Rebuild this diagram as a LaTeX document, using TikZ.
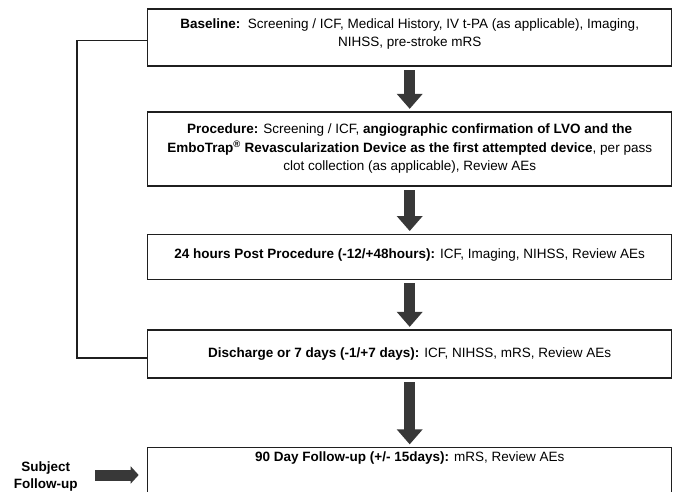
\documentclass[tikz,border=0pt]{standalone}
\usepackage{fontspec}
\setmainfont{Liberation Sans}
\usetikzlibrary{arrows.meta}
\tikzset{
  box/.style={draw=black!88, line width=1.3pt, minimum width=524pt, inner sep=0pt, rectangle},
  txt/.style={inner sep=0pt, anchor=center, font=\fontsize{13.5}{18.3}\selectfont, align=center},
  bigarrow/.style={draw=black!78, line width=11pt, -{Triangle[width=25pt,length=15pt]}, shorten <=3.5pt, shorten >=2.5pt},
  smallarrow/.style={draw=black!78, line width=11pt, -{Triangle[width=17pt,length=8pt]}},
  conn/.style={draw=black!88, line width=1.3pt}
}
\begin{document}
\begin{tikzpicture}[x=1pt,y=-1pt]
\useasboundingbox (0,0) rectangle (676,491);
\clip (0,0) rectangle (676,491);
\fill[white] (0,0) rectangle (676,491);
% boxes
\node[box, minimum height=57pt] (b1) at (409.7,37.5) {};
\node[box, minimum height=74pt] (b2) at (409.7,149) {};
\node[box, minimum height=45pt] (b3) at (409.7,256.7) {};
\node[box, minimum height=48pt] (b4) at (409.7,354) {};
\node[box, minimum height=70pt] (b5) at (409.7,482.5) {};
% texts
\node[txt] (t1a) at (409.7,25) {\textbf{Baseline:}\ \ Screening / ICF, Medical History, IV t-PA (as applicable), Imaging,};
\node[txt] (t1b) at (409.7,43.3) {NIHSS, pre-stroke mRS};
\node[txt] (t2a) at (409.7,130) {\textbf{Procedure:} Screening / ICF, \textbf{angiographic confirmation of LVO and the}};
\node[txt] (t2b) at (409.7,148.3) {\textbf{EmboTrap\textsuperscript{®} Revascularization Device as the first attempted device}, per pass};
\node[txt] (t2c) at (409.7,166.7) {clot collection (as applicable), Review AEs};
\node[txt] (t3) at (409.7,255) {\textbf{24 hours Post Procedure (-12/+48hours):} ICF, Imaging, NIHSS, Review AEs};
\node[txt] (t4) at (409.7,354.5) {\textbf{Discharge or 7 days (-1/+7 days):} ICF, NIHSS, mRS, Review AEs};
\node[txt] (t5) at (409.7,458.3) {\textbf{90 Day Follow-up (+/- 15days):} mRS, Review AEs};
\node[txt, font=\bfseries\fontsize{13.5}{17.3}\selectfont] (subj) at (45.7,476.3) {Subject\\Follow-up};
% vertical arrows
\draw[bigarrow] (b1.south) -- (b2.north);
\draw[bigarrow] (b2.south) -- (b3.north);
\draw[bigarrow] (b3.south) -- (b4.north);
\draw[bigarrow] (b4.south) -- (b5.north);
% subject arrow
\coordinate (sa) at (95,475);
\draw[smallarrow, shorten >=8.4pt] (sa) -- (sa -| b5.west);
% bracket
\coordinate (bx) at (77,0);
\draw[conn] ([yshift=-3pt]b1.west) -- ([yshift=-3pt]b1.west -| bx) |- ([yshift=-4pt]b4.west);
\end{tikzpicture}
\end{document}
